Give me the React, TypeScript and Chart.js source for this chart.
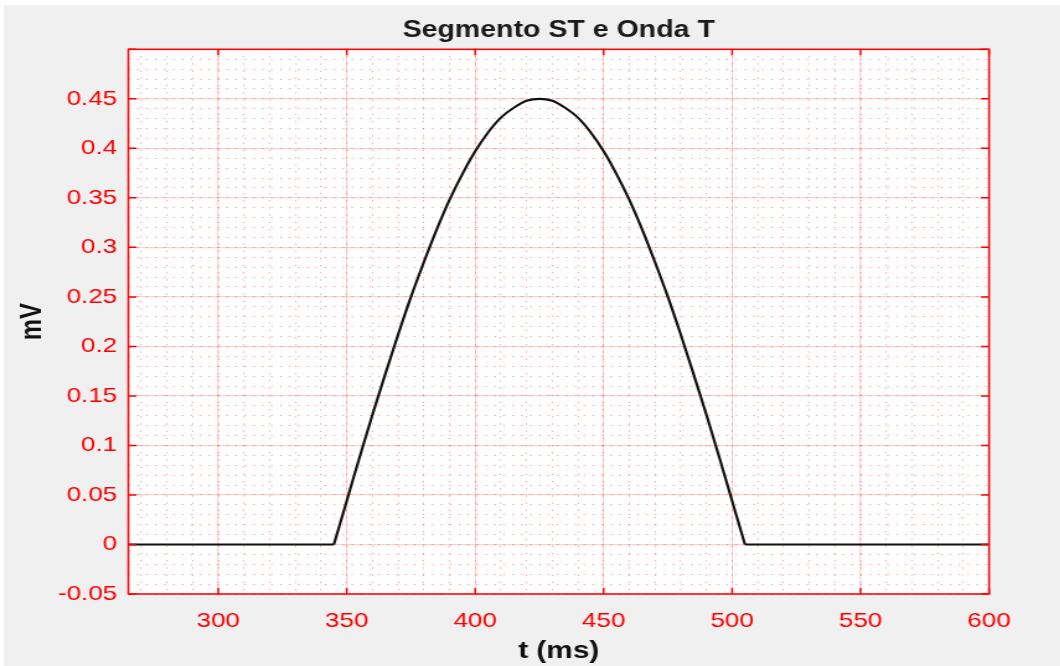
import { useEffect, useRef } from 'react';
import { Chart, registerables } from 'chart.js';

Chart.register(...registerables);

// The reference figure is horizontally stretched; draw at native width and stretch with CSS.
const SX = 1.24;
const W = 855;
const H = 666;

const titleText = 'Segmento ST e Onda T';
const xLabel = 't (ms)';
const yLabel = 'mV';

const xMin = 265;
const xMax = 600;
const yMin = -0.05;
const yMax = 0.5;
const xMajorStep = 50;
const xMinorStep = 10;
const yMajorStep = 0.05;
const yMinorStep = 0.01;

// ST segment before the T wave (flat at 0)
const stTime = [265, 345];
const stValues = [0, 0];

// T wave
const tWaveTime = [
  345, 350, 355, 360, 365, 370, 375, 380, 385, 390, 395, 400, 405, 410, 415, 420, 425,
  430, 435, 440, 445, 450, 455, 460, 465, 470, 475, 480, 485, 490, 495, 500, 505,
];
const tWaveValues = [
  0, 0.044, 0.088, 0.131, 0.172, 0.212, 0.25, 0.285, 0.318, 0.348, 0.374, 0.397, 0.416, 0.431, 0.441, 0.448, 0.45,
  0.448, 0.441, 0.431, 0.416, 0.397, 0.374, 0.348, 0.318, 0.285, 0.25, 0.212, 0.172, 0.131, 0.088, 0.044, 0,
];

// Baseline after the T wave
const afterTime = [505, 600];
const afterValues = [0, 0];

const FONT = "'Liberation Sans', Arial, Helvetica, sans-serif";
const RED = '#ff0000';
const MAJOR_GRID = 'rgba(255,0,0,0.18)';
const MINOR_GRID = 'rgba(255,0,0,0.4)';
const LINE = '#111111';

const framePlugin = {
  id: 'frame',
  beforeDraw(chart: any) {
    const { ctx, chartArea: a, width, height } = chart;
    ctx.save();
    ctx.fillStyle = '#ffffff';
    ctx.fillRect(0, 0, width, height);
    ctx.fillStyle = '#f0f0f0';
    ctx.fillRect(4 / SX, 5, width, height);
    ctx.fillStyle = '#ffffff';
    ctx.fillRect(a.left, a.top, a.right - a.left, a.bottom - a.top);
    ctx.restore();
  },
  afterDraw(chart: any) {
    const { ctx, chartArea: a } = chart;
    const xs = chart.scales.x;
    const ys = chart.scales.y;
    ctx.save();
    ctx.strokeStyle = RED;
    ctx.lineWidth = 1.5;
    ctx.beginPath();
    xs.ticks.forEach((t: any) => {
      const px = xs.getPixelForValue(t.value);
      ctx.moveTo(px, a.bottom);
      ctx.lineTo(px, a.bottom - 6);
      ctx.moveTo(px, a.top);
      ctx.lineTo(px, a.top + 6);
    });
    ys.ticks.forEach((t: any) => {
      const py = ys.getPixelForValue(t.value);
      ctx.moveTo(a.left, py);
      ctx.lineTo(a.left + 6.5, py);
      ctx.moveTo(a.right, py);
      ctx.lineTo(a.right - 6.5, py);
    });
    ctx.stroke();
    ctx.strokeRect(a.left, a.top, a.right - a.left, a.bottom - a.top);
    ctx.restore();
  },
};

const toPoints = (xs: number[], ys: number[]) => xs.map((x, i) => ({ x, y: ys[i] }));

export default function App() {
  const ref = useRef<HTMLCanvasElement | null>(null);

  useEffect(() => {
    if (!ref.current) return;
    const base = { borderColor: LINE, borderWidth: 2.2, pointRadius: 0, fill: false };
    const chart = new Chart(ref.current, {
      type: 'line',
      data: {
        datasets: [
          { ...base, data: toPoints(stTime, stValues), tension: 0 },
          { ...base, data: toPoints(tWaveTime, tWaveValues), cubicInterpolationMode: 'monotone' },
          { ...base, data: toPoints(afterTime, afterValues), tension: 0 },
        ],
      },
      options: {
        animation: false,
        responsive: false,
        events: [],
        layout: { padding: { left: 0, top: 0, right: 57.4, bottom: 0 } },
        plugins: {
          legend: { display: false },
          tooltip: { enabled: false },
          title: {
            display: true,
            text: titleText,
            fullSize: false,
            color: '#1a1a1a',
            font: { family: FONT, size: 23, weight: 'bold', lineHeight: 1.2 },
            padding: { top: 16.5, bottom: 5.2 },
          },
        },
        scales: {
          x: {
            type: 'linear',
            position: 'bottom',
            min: xMin,
            max: xMax,
            afterFit: (s: any) => {
              s.height = 72;
            },
            ticks: {
              stepSize: xMajorStep,
              includeBounds: false,
              color: RED,
              padding: 15,
              maxRotation: 0,
              font: { family: FONT, size: 21 },
              callback: (v: any) => String(v),
            },
            grid: { color: MAJOR_GRID, lineWidth: 1.2, drawTicks: false },
            border: { display: false },
            title: {
              display: true,
              text: xLabel,
              color: '#111111',
              font: { family: FONT, size: 24, weight: 'bold', lineHeight: 1.2 },
              padding: { top: 0, bottom: 0 },
            },
          },
          x2: {
            type: 'linear',
            position: 'top',
            min: xMin,
            max: xMax,
            afterFit: (s: any) => {
              s.height = 0;
            },
            ticks: { display: false, stepSize: xMinorStep, includeBounds: false },
            grid: { color: MINOR_GRID, lineWidth: 1, drawTicks: false },
            border: { display: false, dash: [1.2, 6] },
          },
          y: {
            type: 'linear',
            position: 'left',
            min: yMin,
            max: yMax,
            afterFit: (s: any) => {
              s.width = 103.5;
            },
            ticks: {
              stepSize: yMajorStep,
              includeBounds: false,
              color: RED,
              padding: 9,
              font: { family: FONT, size: 21 },
              callback: (v: any) => {
                const r = Math.round(Number(v) * 100) / 100;
                if (Math.abs(r - yMax) < 1e-9) return '';
                return String(r);
              },
            },
            grid: { color: MAJOR_GRID, lineWidth: 1.2, drawTicks: false },
            border: { display: false },
            title: {
              display: true,
              text: yLabel,
              color: '#111111',
              font: { family: FONT, size: 24, weight: 'bold', lineHeight: 1.2 },
              padding: { top: 11.5, bottom: 0 },
            },
          },
          y2: {
            type: 'linear',
            position: 'right',
            min: yMin,
            max: yMax,
            afterFit: (s: any) => {
              s.width = 0;
            },
            ticks: { display: false, stepSize: yMinorStep, includeBounds: false },
            grid: { color: MINOR_GRID, lineWidth: 1, drawTicks: false },
            border: { display: false, dash: [1.2, 6] },
          },
        },
      } as any,
      plugins: [framePlugin],
    });
    return () => chart.destroy();
  }, []);

  return (
    <div
      style={{
        position: 'fixed',
        left: 0,
        top: 0,
        width: W,
        height: H,
        transform: `scaleX(${SX})`,
        transformOrigin: '0 0',
      }}
    >
      <canvas ref={ref} width={W} height={H} style={{ width: W, height: H, display: 'block' }} />
    </div>
  );
}
